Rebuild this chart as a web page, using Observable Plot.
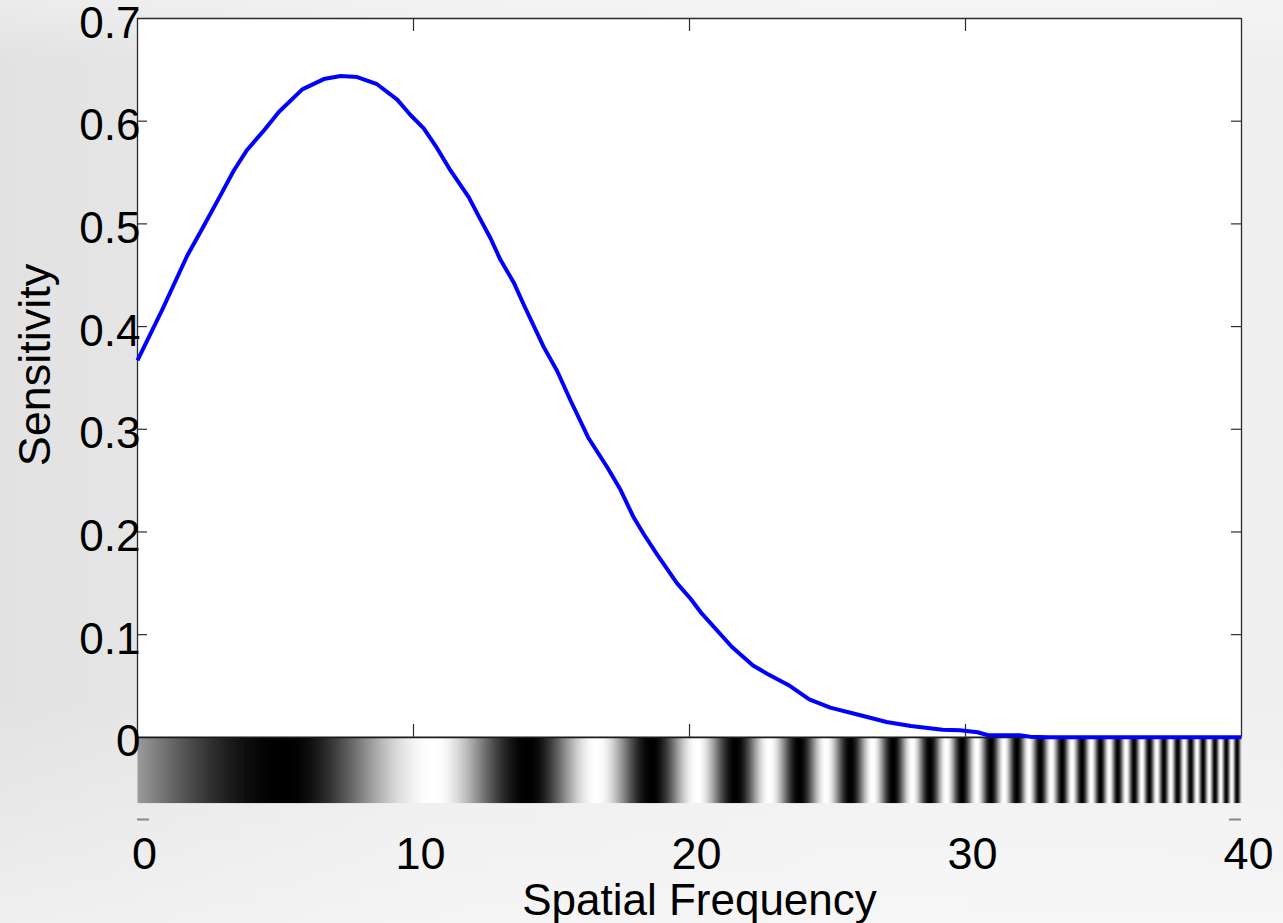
<!DOCTYPE html>
<html>
<head>
<meta charset="utf-8">
<script src="https://cdn.jsdelivr.net/npm/d3@7"></script>
<script src="https://cdn.jsdelivr.net/npm/@observablehq/plot@0.6"></script>
<style>
  html, body { margin: 0; padding: 0; width: 1283px; height: 923px; overflow: hidden; }
  body {
    background:
      linear-gradient(180deg, rgba(255,255,255,0.35) 0px, rgba(255,255,255,0) 60px, rgba(255,255,255,0) 700px, rgba(255,255,255,0.45) 923px),
      linear-gradient(90deg, #e2e2e2 0px, #e5e5e5 130px, #ececec 420px, #f0f0f0 900px, #efefef 1283px);
  }
  #chart svg { display: block; }
</style>
</head>
<body>
<div id="chart"></div>
<script>
// ---- axes / ticks ----
const xDomain = [0, 40];
const yDomain = [-0.08, 0.7];
const xTicks = [0, 10, 20, 30, 40];
const xInnerTicks = [10, 20, 30];
const yTicks = [0, 0.1, 0.2, 0.3, 0.4, 0.5, 0.6, 0.7];
const yInnerTicks = [0.1, 0.2, 0.3, 0.4, 0.5, 0.6];
const yTop = 0.7;
const yZero = 0;
const yBottom = -0.08;

// ---- sensitivity curve ----
const freq = [0, 0.89, 1.8, 2.34, 3.01, 3.49, 3.97, 4.58, 5.12, 5.97, 6.75, 7.36, 7.96, 8.68, 9.41, 9.89,
  10.37, 10.8, 11.34, 12.0, 12.37, 12.79, 13.15, 13.63, 14.0, 14.72, 15.2, 15.69, 16.35, 17.02, 17.5,
  17.98, 18.34, 18.83, 19.55, 20.04, 20.4, 21.54, 22.3, 22.81, 23.58, 24.34, 25.1, 26.12, 27.14, 28.02,
  29.17, 29.8, 30.44, 30.82, 31.96, 32.34, 33, 40];
const sens = [0.367, 0.416, 0.469, 0.495, 0.528, 0.552, 0.572, 0.591, 0.609, 0.631, 0.641, 0.644, 0.643,
  0.636, 0.621, 0.606, 0.593, 0.576, 0.552, 0.526, 0.507, 0.486, 0.465, 0.443, 0.421, 0.380, 0.357,
  0.328, 0.291, 0.263, 0.241, 0.214, 0.198, 0.178, 0.150, 0.135, 0.122, 0.088, 0.070, 0.062, 0.051,
  0.037, 0.029, 0.022, 0.015, 0.011, 0.0075, 0.0068, 0.005, 0.002, 0.002, 0.0007, 0, 0];

// ---- grating strip: stripe centres (dark / light), phase in half-cycles ----
const gratingX = [0, 5.40, 10.75, 14.16, 16.66, 18.64, 20.28, 21.68, 22.90, 23.98, 24.95, 25.83, 26.64,
  27.38, 28.07, 28.71, 29.31, 29.88, 30.41, 30.92, 31.40, 31.86, 32.30, 32.71, 33.11, 33.50, 33.86,
  34.22, 34.56, 34.89, 35.21, 35.52, 35.82, 36.11, 36.39, 36.66, 36.93, 37.19, 37.44, 37.69, 37.93,
  38.16, 38.39, 38.61, 38.83, 39.04, 39.25, 39.45, 39.65, 39.84, 40.04];
const gratingPhase = [0.43, 1, 2, 3, 4, 5, 6, 7, 8, 9, 10, 11, 12, 13, 14, 15, 16, 17, 18, 19, 20,
  21, 22, 23, 24, 25, 26, 27, 28, 29, 30, 31, 32, 33, 34, 35, 36, 37, 38, 39, 40,
  41, 42, 43, 44, 45, 46, 47, 48, 49, 50];
const gratingBottom = -0.064;

// ---- helpers ----
const curve = freq.map((f, i) => ({f, s: sens[i]}));
function gratingLevel(x) {
  let i = 0;
  while (i < gratingX.length - 2 && x > gratingX[i + 1]) i++;
  const t = (x - gratingX[i]) / (gratingX[i + 1] - gratingX[i]);
  const p = gratingPhase[i] + (gratingPhase[i + 1] - gratingPhase[i]) * t;
  return 0.5 + 0.5 * Math.cos(Math.PI * p);
}

const font = "'Liberation Sans', Arial, Helvetica, sans-serif";
const frameColor = "#2b2b2b";

const chart = Plot.plot({
  width: 1283,
  height: 923,
  marginLeft: 137,
  marginRight: 42,
  marginTop: 18,
  marginBottom: 104,
  style: {background: "none", fontFamily: font, color: "black", overflow: "visible"},
  x: {domain: xDomain, axis: null},
  y: {domain: yDomain, axis: null},
  color: {type: "linear", domain: [0, 1], range: ["black", "white"], interpolate: "rgb"},
  marks: [
    // white axes background
    Plot.rect([0], {x1: xDomain[0], x2: xDomain[1], y1: yZero, y2: yTop, fill: "white"}),
    // grating strip
    Plot.raster({
      x1: xDomain[0], x2: xDomain[1], y1: gratingBottom, y2: yZero,
      width: 1104, height: 2,
      fill: (x, y) => gratingLevel(x)
    }),
    // frame lines
    Plot.ruleY([yTop], {x1: xDomain[0], x2: xDomain[1], stroke: frameColor, strokeWidth: 1.3}),
    Plot.ruleX([xDomain[0], xDomain[1]], {y1: yZero, y2: yTop, stroke: frameColor, strokeWidth: 1.3}),
    Plot.ruleY([yZero], {x1: xDomain[0], x2: xDomain[1], stroke: "#1a1a1a", strokeWidth: 1.8}),
    // inward ticks
    Plot.ruleX(xInnerTicks, {y1: yZero, y2: yZero, insetTop: -13, stroke: frameColor, strokeWidth: 1.2}),
    Plot.ruleX(xInnerTicks, {y1: yTop, y2: yTop, insetBottom: -13, stroke: frameColor, strokeWidth: 1.2}),
    Plot.ruleY(yInnerTicks, {x1: xDomain[0], x2: xDomain[0], insetRight: -10, stroke: frameColor, strokeWidth: 1.2}),
    Plot.ruleY(yInnerTicks, {x1: xDomain[1], x2: xDomain[1], insetLeft: -10, stroke: frameColor, strokeWidth: 1.2}),
    // little dashes at the lower y limit
    Plot.ruleY([yBottom], {x1: xDomain[0], x2: xDomain[0], insetRight: -12, stroke: "#888", strokeWidth: 2}),
    Plot.ruleY([yBottom], {x1: xDomain[1], x2: xDomain[1], insetLeft: -12, stroke: "#888", strokeWidth: 2}),
    // the sensitivity curve
    Plot.line(curve, {x: "f", y: "s", stroke: "#0000ff", strokeWidth: 4, strokeLinejoin: "round", strokeLinecap: "butt"}),
    // tick labels
    Plot.axisY(yTicks, {anchor: "left", tickSize: 0, tickPadding: -3, fontSize: 44, dy: 5,
      tickFormat: d => d === 0 ? "0" : d.toFixed(1), label: null}),
    Plot.axisX(xTicks, {anchor: "bottom", tickSize: 0, tickPadding: 18, fontSize: 45, dx: 7,
      tickFormat: d => String(d), label: null}),
    // axis titles
    Plot.text(["Spatial Frequency"], {frameAnchor: "bottom", textAnchor: "middle", lineAnchor: "middle",
      dx: 10, dy: 81, fontSize: 44, text: d => d}),
    Plot.text(["Sensitivity"], {frameAnchor: "left", textAnchor: "middle", lineAnchor: "middle",
      rotate: -90, dx: -102, dy: -54, fontSize: 45, text: d => d})
  ]
});
document.getElementById("chart").appendChild(chart);
</script>
</body>
</html>
